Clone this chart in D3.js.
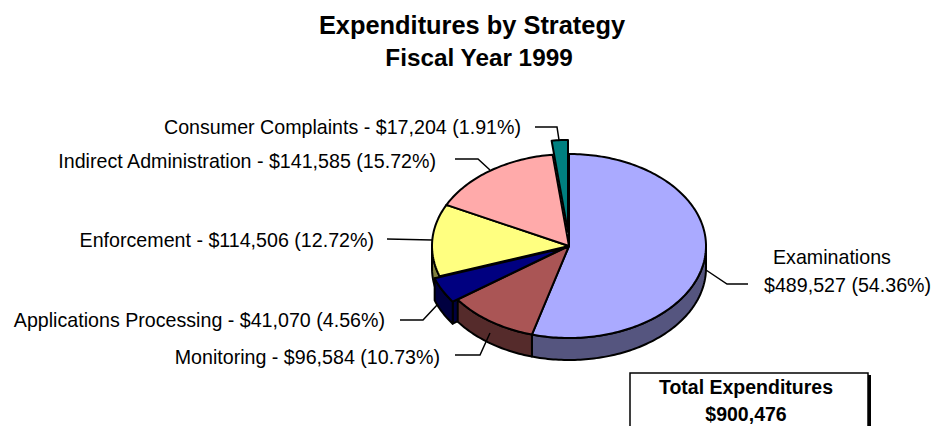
<!DOCTYPE html>
<html><head><meta charset="utf-8">
<script src="https://cdnjs.cloudflare.com/ajax/libs/d3/7.8.5/d3.min.js"></script>
<style>html,body{margin:0;padding:0;background:#fff;overflow:hidden}svg{display:block}text{font-family:"Liberation Sans",Arial,sans-serif;fill:#000}</style>
</head><body><svg id="c" width="939" height="426"></svg>
<script>
const categories=["Examinations","Monitoring","Applications Processing","Enforcement","Indirect Administration","Consumer Complaints"];
const amounts=[489527,96584,41070,114506,141585,17204];
const amountLabels=["$489,527 (54.36%)","Monitoring - $96,584 (10.73%)","Applications Processing - $41,070 (4.56%)","Enforcement - $114,506 (12.72%)","Indirect Administration - $141,585 (15.72%)","Consumer Complaints - $17,204 (1.91%)"];
const topColors=["#AAAAFF","#AA5555","#000080","#FFFF80","#FFAAAA","#008080"];
const sideColors=["#55557F","#552B2B","#000040","#80803F","#7F5555","#004040"];
const explodeX=[0,0,-5,0,0,-1];
const explodeY=[0,0,2,0,0,-14];

const svg=d3.select("#c");
const cx=569,cy=246,rx=137,ry=92,depth=22;
const sx=d3.scaleLinear().domain([-1,1]).range([cx-rx,cx+rx]);
const sy=d3.scaleLinear().domain([-1,1]).range([cy-ry,cy+ry]);
const pie=d3.pie().sort(null).value(d=>d)(amounts);
const line=d3.line().x(d=>d[0]).y(d=>d[1]);
const pt=(a,i,dz=0)=>[sx(Math.sin(a))+explodeX[i],sy(-Math.cos(a))+explodeY[i]+dz];
const samples=(a0,a1)=>{const n=Math.max(2,Math.ceil(Math.abs(a1-a0)/0.02));return d3.range(n+1).map(k=>a0+(a1-a0)*k/n);};
const apex=(i,dz=0)=>[cx+explodeX[i],cy+explodeY[i]+dz];
const stroke=(sel,w=2)=>sel.attr("stroke","#000").attr("stroke-width",w).attr("stroke-linejoin","round");

const rim=(i)=>{const p=pie[i];const a0=Math.max(p.startAngle,Math.PI/2),a1=Math.min(p.endAngle,3*Math.PI/2);
  if(a1<=a0)return;
  const s=samples(a0,a1);
  const d=[...s.map(a=>pt(a,i)),...s.slice().reverse().map(a=>pt(a,i,depth))];
  stroke(svg.append("path").attr("d",line(d)+"Z").attr("fill",sideColors[i]));};
// cut wall of the pulled-out slice sits behind the neighbouring rim
{const i=2,a=pie[i].startAngle;
 stroke(svg.append("path").attr("d",line([apex(i),pt(a,i),pt(a,i,depth),apex(i,depth)])+"Z").attr("fill",sideColors[i]));}
[3,2,0,1].forEach(rim);
const face=i=>{const p=pie[i];
  const d=[apex(i),...samples(p.startAngle,p.endAngle).map(a=>pt(a,i))];
  stroke(svg.append("path").attr("d",line(d)+"Z").attr("fill",topColors[i]));};
[0,1,3,4,5,2].forEach(face);

const leaders=[
 [[706,270],[727,284],[748,284]],
 [[490,333],[480,355],[455,355]],
 [[438,304],[423,320],[400,320]],
 [[432,240],[387,239]],
 [[490,170],[478,159],[455,159]],
 [[559,140],[557,127],[535,127]]];
leaders.forEach(l=>svg.append("path").attr("d",line(l)).attr("fill","none").attr("stroke","#000").attr("stroke-width",1.5));

const labelX=[764,440,385,374,436,521],labelY=[292,364,327,247,168,134];
amountLabels.forEach((t,i)=>svg.append("text").attr("x",labelX[i]).attr("y",labelY[i]).attr("font-size",19.65)
  .attr("text-anchor",i===0?"start":"end").text(t));
svg.append("text").attr("x",773).attr("y",264).attr("font-size",19.65).text(categories[0]);

svg.append("text").attr("x",472).attr("y",34).attr("text-anchor","middle").attr("font-size",25.4).attr("font-weight","bold").text("Expenditures by Strategy");
svg.append("text").attr("x",479).attr("y",66).attr("text-anchor","middle").attr("font-size",24.3).attr("font-weight","bold").text("Fiscal Year 1999");

svg.append("rect").attr("x",632).attr("y",375).attr("width",239).attr("height",60).attr("fill","#000");
svg.append("rect").attr("x",630).attr("y",373).attr("width",238).attr("height",60).attr("fill","#fff").attr("stroke","#000").attr("stroke-width",1.5);
svg.append("text").attr("x",746).attr("y",394).attr("text-anchor","middle").attr("font-size",19.5).attr("font-weight","bold").text("Total Expenditures");
svg.append("text").attr("x",746).attr("y",421).attr("text-anchor","middle").attr("font-size",19.5).attr("font-weight","bold").text("$900,476");
</script></body></html>
